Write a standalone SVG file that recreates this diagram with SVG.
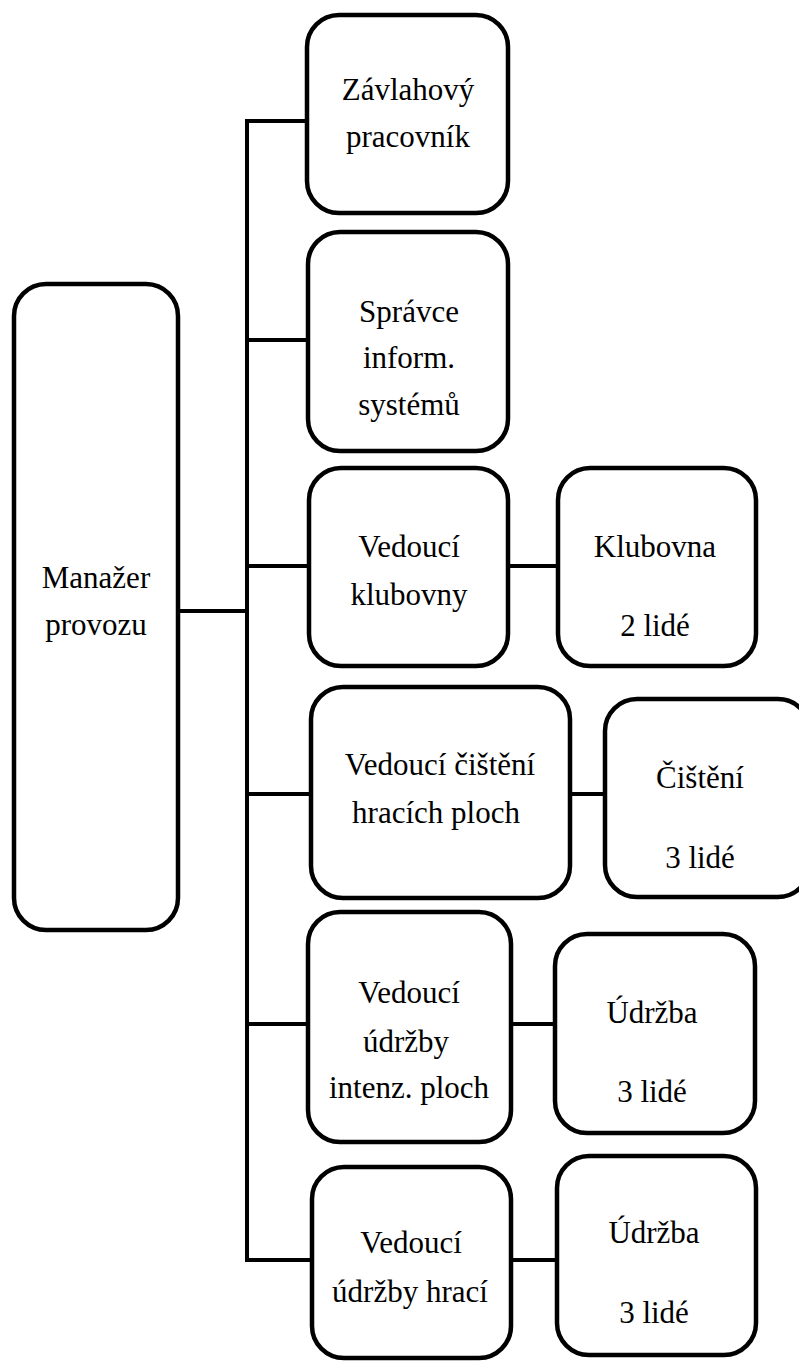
<svg xmlns="http://www.w3.org/2000/svg" width="799" height="1365" viewBox="0 0 799 1365" font-family="Liberation Serif, DejaVu Serif, serif">
<style>
.box{fill:#fff;stroke:#000;stroke-width:4.5}
.ln{stroke:#000;stroke-width:4;fill:none}
text{font-size:31px;fill:#000;text-anchor:middle}
</style>
<rect width="799" height="1365" fill="#fff"/>
<g id="connectors">
<path class="ln" d="M247 121V1260"/>
<path class="ln" d="M245 121H307"/>
<path class="ln" d="M247 340H308"/>
<path class="ln" d="M247 566H309"/>
<path class="ln" d="M247 794H311"/>
<path class="ln" d="M247 1024H308"/>
<path class="ln" d="M245 1260H312"/>
<path class="ln" d="M180 611H247"/>
<path class="ln" d="M508 566H558"/>
<path class="ln" d="M570 794H605"/>
<path class="ln" d="M511 1024H555"/>
<path class="ln" d="M511 1260H557"/>
</g>
<g id="manager">
<rect class="box" x="14" y="284" width="164" height="646" rx="32"/>
<text x="96" y="588" font-family="Liberation Serif">Manažer</text>
<text x="96" y="635" font-family="Liberation Serif">provozu</text>
</g>
<g id="zavlahovy">
<rect class="box" x="307" y="15" width="201" height="198" rx="32"/>
<text x="408" y="100" font-family="Liberation Serif">Závlahový</text>
<text x="408" y="147" font-family="Liberation Serif">pracovník</text>
</g>
<g id="spravce">
<rect class="box" x="308" y="232" width="200" height="219" rx="32"/>
<text x="409" y="322" font-family="Liberation Serif">Správce</text>
<text x="409" y="368" font-family="Liberation Serif">inform.</text>
<text x="409" y="415" font-family="Liberation Serif">systémů</text>
</g>
<g id="ved-klubovny">
<rect class="box" x="309" y="468" width="199" height="198" rx="32"/>
<text x="409" y="557" font-family="Liberation Serif">Vedoucí</text>
<text x="409" y="605" font-family="Liberation Serif">klubovny</text>
</g>
<g id="klubovna">
<rect class="box" x="558" y="468" width="198" height="198" rx="32"/>
<text x="655" y="557" font-family="Liberation Serif">Klubovna</text>
<text x="655" y="636" font-family="Liberation Serif">2 lidé</text>
</g>
<g id="ved-cisteni">
<rect class="box" x="311" y="687" width="259" height="211" rx="32"/>
<text x="440" y="775" font-family="Liberation Serif">Vedoucí čištění</text>
<text x="436" y="823" font-family="Liberation Serif">hracích ploch</text>
</g>
<g id="cisteni">
<rect class="box" x="605" y="699" width="205" height="198" rx="32"/>
<text x="700" y="788" font-family="Liberation Serif">Čištění</text>
<text x="700" y="868" font-family="Liberation Serif">3 lidé</text>
</g>
<g id="ved-udrzby-intenz">
<rect class="box" x="308" y="912" width="203" height="230" rx="32"/>
<text x="409" y="1003" font-family="Liberation Serif">Vedoucí</text>
<text x="406" y="1052" font-family="Liberation Serif">údržby</text>
<text x="409" y="1098" font-family="Liberation Serif">intenz. ploch</text>
</g>
<g id="udrzba1">
<rect class="box" x="555" y="934" width="200" height="199" rx="32"/>
<text x="652" y="1023" font-family="Liberation Serif">Údržba</text>
<text x="652" y="1102" font-family="Liberation Serif">3 lidé</text>
</g>
<g id="ved-udrzby-hraci">
<rect class="box" x="312" y="1167" width="199" height="191" rx="32"/>
<text x="411" y="1253" font-family="Liberation Serif">Vedoucí</text>
<text x="410" y="1302" font-family="Liberation Serif">údržby hrací</text>
</g>
<g id="udrzba2">
<rect class="box" x="557" y="1156" width="199" height="199" rx="32"/>
<text x="654" y="1243" font-family="Liberation Serif">Údržba</text>
<text x="654" y="1323" font-family="Liberation Serif">3 lidé</text>
</g>
</svg>
